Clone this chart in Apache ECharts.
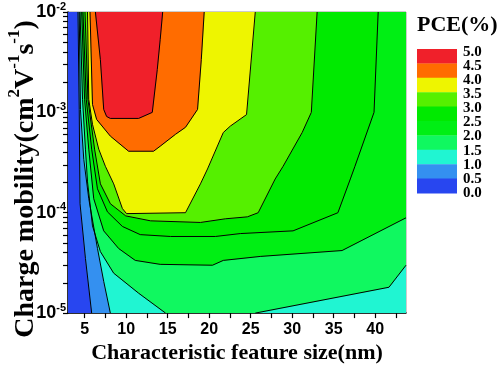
<!DOCTYPE html>
<html><head><meta charset="utf-8">
<script src="https://cdn.jsdelivr.net/npm/echarts@6/dist/echarts.min.js"></script>
<style>html,body{margin:0;padding:0;background:#fff}#c{width:500px;height:369px}</style>
</head><body><div id="c"></div>
<script>
// axis ranges
const xMin = 3, xMax = 43.7, yMin = 1e-5, yMax = 1e-2;
const xLabelValues = [5, 10, 15, 20, 25, 30, 35, 40];
const xTickValues = [5, 7.5, 10, 12.5, 15, 17.5, 20, 22.5, 25, 27.5, 30, 32.5, 35, 37.5, 40, 42.5];
const yLabelValues = [1e-5, 1e-4, 1e-3, 1e-2];
const yTickValues = [1e-5,2e-5,3e-5,4e-5,5e-5,6e-5,7e-5,8e-5,9e-5,1e-4,2e-4,3e-4,4e-4,5e-4,6e-4,7e-4,8e-4,9e-4,1e-3,2e-3,3e-3,4e-3,5e-3,6e-3,7e-3,8e-3,9e-3,1e-2];

// PCE levels (legend) and band colours (0-0.5 ... 4.5-5.0)
const legendLabels = ['5.0','4.5','4.0','3.5','3.0','2.5','2.0','1.5','1.0','0.5','0.0'];
const bandColors = ['#2846f0','#3490f0','#20f5d2','#10f860','#00ef14','#00ea00','#55f000','#eef500','#ff6c00','#f0202a'];

// contour lines [feature size nm, mobility]
const c05 = [[4.2,1e-2],[4.35,1.07e-3],[4.45,1.23e-4],[5.1,3.5e-5],[5.85,1e-5]];
const c10 = [[4.35,1e-2],[4.5,1.07e-3],[4.9,3.4e-4],[5.5,1.38e-4],[6.55,4.4e-5],[7.3,2.07e-5],[8.1,1e-5]];
const c15a = [[4.45,1e-2],[4.75,1.35e-3],[5.1,4.3e-4],[5.35,2.03e-4],[5.95,7.4e-5],[6.9,4.1e-5],[8.5,2.5e-5],[11.5,1.58e-5],[14.75,1e-5]];
const c15b = [[25.55,1e-5],[41.65,1.81e-5],[43.7,3e-5]];
const c20 = [[4.65,1e-2],[5.0,1.35e-3],[5.5,4.3e-4],[6.1,1.38e-4],[7.3,6.6e-5],[9.1,4.4e-5],[11.1,3.35e-5],[14.1,3.06e-5],[20.4,3e-5],[21.7,3.35e-5],[26.15,3.67e-5],[36,4.2e-5],[43.7,8.9e-5]];
const c25 = [[4.8,1e-2],[5.2,1.35e-3],[5.85,4.3e-4],[6.55,1.73e-4],[7.75,1.02e-4],[9.55,7.3e-5],[11.7,6.05e-5],[15.35,5.8e-5],[20.75,5.8e-5],[23.75,6.2e-5],[30.1,6.6e-5],[35.5,1e-4],[37,2.17e-4],[37.55,2.9e-4],[39.85,1e-3],[40.35,1e-2]];
const c30 = [[5.05,1e-2],[5.4,1.35e-3],[6.2,4.3e-4],[6.9,1.94e-4],[8.1,1.23e-4],[9.95,9.3e-5],[12.95,8.3e-5],[18.95,8e-5],[21.95,8.7e-5],[24.6,9.1e-5],[25.9,1e-4],[27.95,2.17e-4],[28.9,2.9e-4],[31.2,6.3e-4],[32.3,1e-3],[33,1e-2]];
const c35 = [[5.35,1e-2],[5.5,1.35e-3],[5.95,7.6e-4],[6.7,4.3e-4],[7.5,2.9e-4],[8.5,1.94e-4],[9.55,1.1e-4],[10.05,9.8e-5],[17.15,1e-4],[18.95,1.94e-4],[19.8,2.73e-4],[21.7,6.3e-4],[22.55,7.3e-4],[24.5,9.5e-4],[25.55,1e-2]];
const c40 = [[5.65,1e-2],[5.95,1.2e-3],[6.45,8.5e-4],[8.1,5.8e-4],[10.3,4.1e-4],[13.3,4.1e-4],[14.1,4.6e-4],[15.95,6.05e-4],[17.15,7.1e-4],[18.6,1.07e-3],[19.05,3.35e-3],[19.4,1e-2]];
const c45 = [[6.3,1e-2],[6.9,3.35e-3],[7.3,1.07e-3],[7.65,9.1e-4],[8.1,8.7e-4],[11.5,8.7e-4],[13.15,1e-3],[13.75,2.67e-3],[14.1,5.3e-3],[14.4,1e-2]];

const regions = [
  {color: bandColors[0], pts: [[xMin,yMin],[xMin,yMax],[xMax,yMax],[xMax,yMin]]},
  {color: bandColors[1], pts: c05.concat([[xMax,yMin],[xMax,yMax]])},
  {color: bandColors[2], pts: c10.concat([[xMax,yMin],[xMax,yMax]])},
  {color: bandColors[3], pts: c15a.concat(c15b, [[xMax,yMax]])},
  {color: bandColors[4], pts: c20.concat([[xMax,yMax]])},
  {color: bandColors[5], pts: c25},
  {color: bandColors[6], pts: c30},
  {color: bandColors[7], pts: c35},
  {color: bandColors[8], pts: c40},
  {color: bandColors[9], pts: c45}
];
const contourLines = [c05, c10, c15a, c15b, c20, c25, c30, c35, c40, c45];

const series = [];
regions.forEach(function (r) {
  series.push({
    type: 'custom', coordinateSystem: 'cartesian2d', clip: true, silent: true,
    data: r.pts,
    renderItem: function (params, api) {
      if (params.dataIndex !== 0) return null;
      return {type: 'polygon', shape: {points: r.pts.map(function (p) { return api.coord(p); })},
              style: {fill: r.color, stroke: r.color, lineWidth: 0.5}};
    }
  });
});
contourLines.forEach(function (l) {
  series.push({type: 'line', data: l, symbol: 'none', silent: true, z: 5,
    lineStyle: {color: '#000', width: 1}});
});

const legendGraphics = [];
const boxTop = 49, boxH = 14.4;
for (let i = 0; i < 10; i++) {
  legendGraphics.push({type: 'rect', left: 417, top: boxTop + i * boxH,
    shape: {width: 40, height: boxH + 0.4}, style: {fill: bandColors[9 - i]}});
}
legendLabels.forEach(function (t, j) {
  legendGraphics.push({type: 'text', x: 463, y: 52 + j * 14.1,
    style: {text: t, font: 'bold 15px "Liberation Serif"', fill: '#000', verticalAlign: 'middle', align: 'left'}});
});
legendGraphics.push({type: 'text', x: 417, y: 25,
  style: {text: 'PCE(%)', font: 'bold 22px "Liberation Serif"', fill: '#000', verticalAlign: 'middle', align: 'left'}});
legendGraphics.push({type: 'text', x: 23, y: 179, rotation: Math.PI / 2,
  style: {text: '{m|Charge mobility(cm}{s|2}{m|V}{s|-1}{m|s}{s|-1}{m|)}', align: 'center', verticalAlign: 'middle',
    rich: {m: {font: 'bold 28px "Liberation Serif"', fill: '#000', lineHeight: 34, verticalAlign: 'bottom'},
           s: {font: 'bold 17px "Liberation Serif"', fill: '#000', lineHeight: 34, verticalAlign: 'top'}}}});

const chart = echarts.init(document.getElementById('c'), null, {renderer: 'canvas'});
chart.setOption({
  animation: false,
  grid: {left: 68, right: 94, top: 12, bottom: 54, show: true, borderColor: '#999', borderWidth: 1},
  xAxis: {
    type: 'value', min: xMin, max: xMax,
    axisLine: {lineStyle: {color: '#000', width: 1.5}},
    axisTick: {customValues: xTickValues, length: 5, lineStyle: {color: '#000', width: 1.2}},
    axisLabel: {customValues: xLabelValues, margin: 8, color: '#000', fontFamily: 'Liberation Sans', fontWeight: 'bold', fontSize: 16},
    splitLine: {show: false},
    name: 'Characteristic feature size(nm)', nameLocation: 'middle', nameGap: 25,
    nameTextStyle: {fontFamily: 'Liberation Serif', fontWeight: 'bold', fontSize: 22, color: '#000'}
  },
  yAxis: {
    type: 'log', logBase: 10, min: yMin, max: yMax,
    axisLine: {show: true, lineStyle: {color: '#000', width: 1.5}},
    axisTick: {customValues: yTickValues, length: 5, lineStyle: {color: '#000', width: 1.2}},
    axisLabel: {customValues: yLabelValues, margin: 2, color: '#000',
      formatter: function (v) { return '{b|10}{s|' + Math.round(Math.log10(v)) + '}'; },
      rich: {b: {fontFamily: 'Liberation Sans', fontWeight: 'bold', fontSize: 18, lineHeight: 22, verticalAlign: 'middle', color: '#000'},
             s: {fontFamily: 'Liberation Sans', fontWeight: 'bold', fontSize: 11, lineHeight: 11, verticalAlign: 'top', color: '#000'}}},
    splitLine: {show: false}, minorTick: {show: false}
  },
  graphic: legendGraphics,
  series: series
});
</script></body></html>
